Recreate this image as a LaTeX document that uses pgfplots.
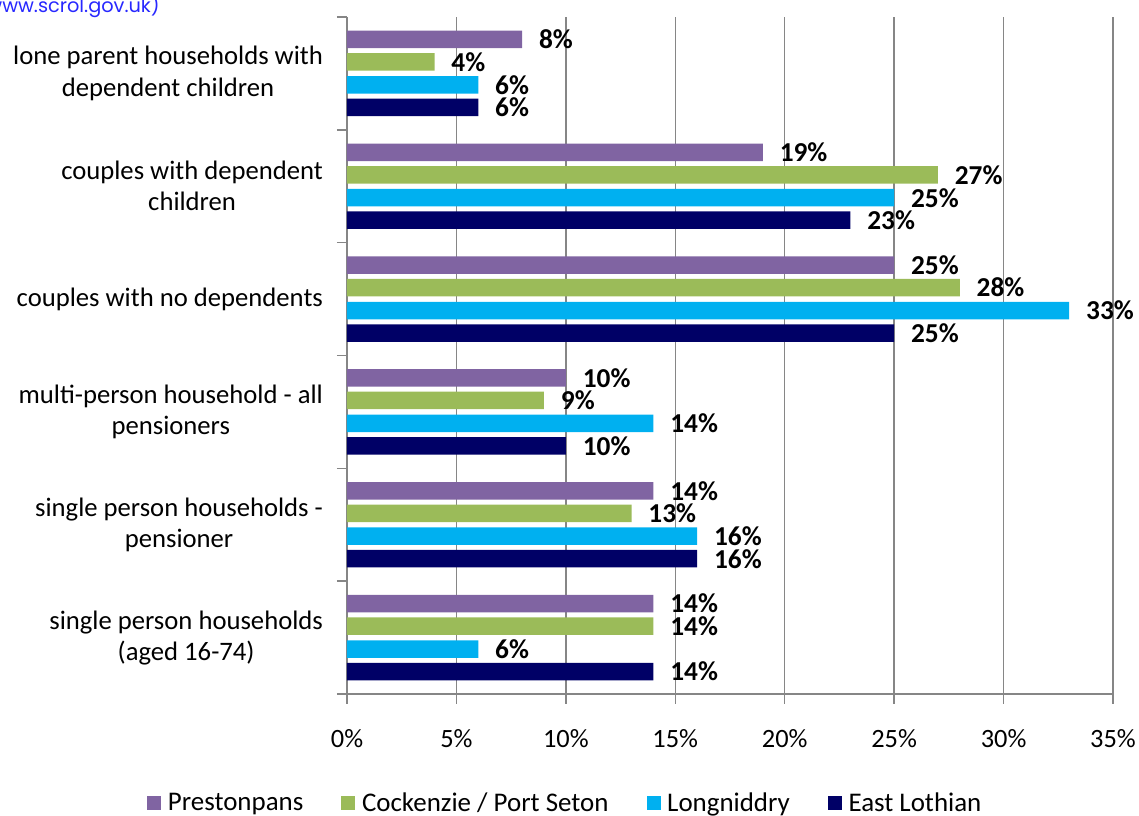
\documentclass[border=0pt]{standalone}
\usepackage{pgfplots}
\pgfplotsset{compat=1.18}
\usepackage{fontspec}
\setmainfont{Carlito}
\newfontfamily\legfont{Carlito}
\newfontfamily\urlfont{Poppins}
\definecolor{cP}{RGB}{128,100,162}
\definecolor{cC}{RGB}{155,187,89}
\definecolor{cL}{RGB}{0,176,240}
\definecolor{cE}{RGB}{0,0,102}
\definecolor{gridc}{RGB}{134,134,134}
\definecolor{urlc}{RGB}{40,40,255}
\pgfplotsset{sqlegend/.style={legend image code/.code={\fill[##1,draw=none] (0pt,-5.25pt) rectangle (10.5pt,5.25pt);}}}
\begin{document}
\begin{tikzpicture}
\useasboundingbox (-260.25pt,-91.5pt) rectangle (594pt,520.5pt);
\begin{axis}[
  anchor=south west, at={(0pt,0pt)},
  scale only axis, width=574.5pt, height=507.75pt,
  xbar, bar width=0.155,
  xmin=0, xmax=35, ymin=-0.5, ymax=5.5,
  axis x line=bottom, axis y line=left,
  axis line style={-, gridc, line width=1.1pt},
  xtick={0,5,10,15,20,25,30,35},
  xticklabels={0\%,5\%,10\%,15\%,20\%,25\%,30\%,35\%},
  xticklabel style={yshift=-15.5pt, font=\fontsize{19.8}{23}\selectfont},
  xmajorgrids, grid style={gridc, line width=1.1pt},
  tick align=outside, major tick length=7.5pt,
  tick style={gridc, line width=1.1pt},
  ytick={-0.5,0.5,1.5,2.5,3.5,4.5,5.5}, yticklabels={},
  extra y ticks={0,1,2,3,4,5},
  extra y tick labels={{single person households\\(aged 16-74)},{single person households -\\pensioner},{multi-person household - all\\pensioners},{couples with no dependents},{couples with dependent\\children},{lone parent households with\\dependent children}},
  extra y tick style={major tick length=0pt, grid=none},
  yticklabel style={align=center, xshift=-14.5pt, font=\fontsize{20}{23.3}\selectfont},
  /pgf/number format/assume math mode=true,
  nodes near coords={\pgfmathprintnumber[fixed,precision=0,assume math mode=true]{\pgfplotspointmeta}\%},
  every node near coord/.append style={anchor=west, inner sep=0pt, xshift=12.5pt, font=\bfseries\fontsize{20.5}{23}\selectfont, text=black},
  legend columns=4,
  legend style={at={(-0.2611,-0.161)}, anchor=west, draw=none, fill=none, inner sep=0pt,
    font=\legfont\fontsize{20.2}{23}\selectfont,
    /tikz/every odd column/.append style={column sep=3pt},
    /tikz/every even column/.append style={column sep=26.5pt}},
  legend cell align=left,
]
\addplot[sqlegend, fill=cP, draw=none, bar shift=0.301] coordinates {(14,0) (14,1) (10,2) (25,3) (19,4) (8,5)};
\addplot[sqlegend, fill=cC, draw=none, bar shift=0.1018] coordinates {(14,0) (13,1) (9,2) (28,3) (27,4) (4,5)};
\addplot[sqlegend, fill=cL, draw=none, bar shift=-0.1018] coordinates {(6,0) (16,1) (14,2) (33,3) (25,4) (6,5)};
\addplot[sqlegend, fill=cE, draw=none, bar shift=-0.301] coordinates {(14,0) (16,1) (10,2) (25,3) (23,4) (6,5)};
\legend{Prestonpans, Cockenzie / Port Seton, Longniddry, East Lothian}
\end{axis}
\node[anchor=base east, text=urlc, font=\urlfont\fontsize{14.5}{16}\selectfont, inner sep=0pt] at (-140.25pt,510.75pt) {(Source: Census, www.scrol.gov.uk)};
\end{tikzpicture}
\end{document}
